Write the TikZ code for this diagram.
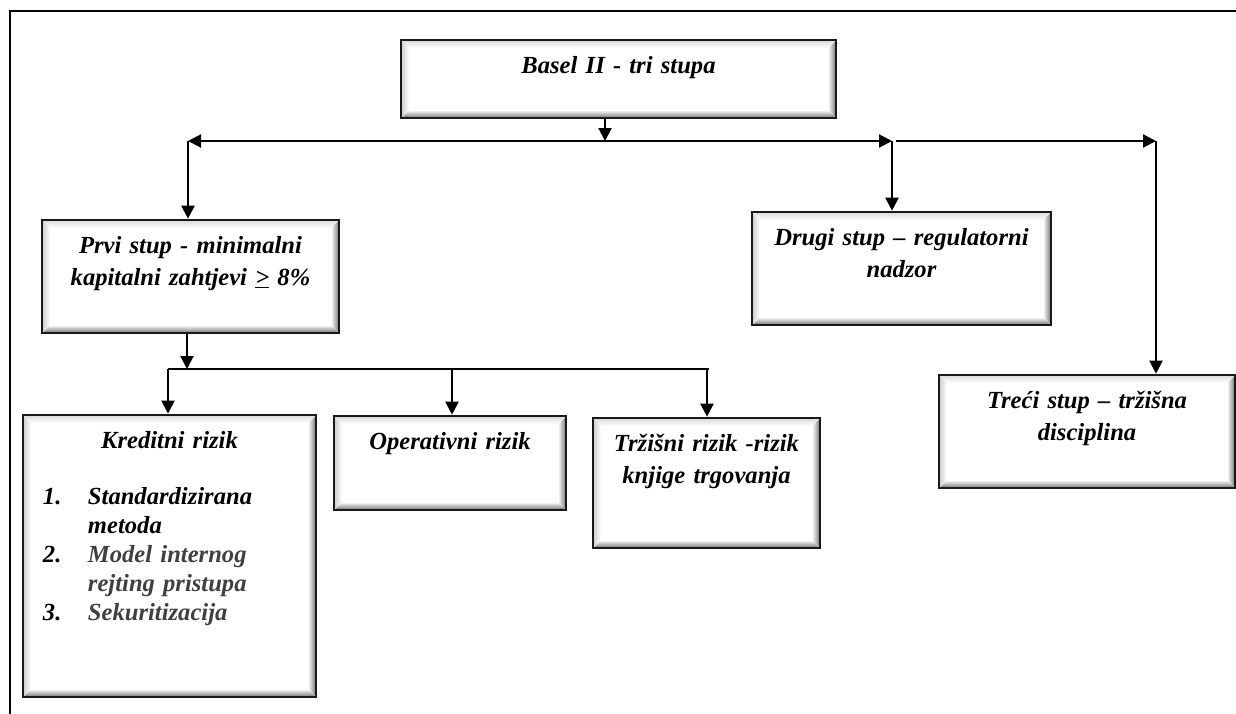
\documentclass[tikz,border=0pt]{standalone}
\usepackage{fontspec}
\setmainfont{Liberation Serif}
\usepackage{tikz}
\usetikzlibrary{arrows.meta, calc}
\tikzset{>={Triangle[length=0.26cm,width=0.26cm]}}
\tikzset{
  pillarBox/.style={shape=rectangle, draw=black!90, line width=1.5pt, fill=white, inner sep=0pt,
    align=center, text height=0.67cm, font=\fontsize{14}{18}\selectfont\bfseries\itshape,
    path picture={
      \coordinate (bsw) at (path picture bounding box.south west);
      \coordinate (bne) at (path picture bounding box.north east);
      \fill[left color=white, right color=black!55] ($(bne)+(-0.16,-0.16)$) -- (bne) -- (bne |- bsw) -- ($(bne |- bsw)+(-0.16,0.16)$) -- cycle;
      \fill[top color=white, bottom color=black!55] ($(bsw)+(0.16,0.16)$) -- (bsw) -- (bne |- bsw) -- ($(bne |- bsw)+(-0.16,0.16)$) -- cycle;
      \fill[left color=black!20, right color=white] (bsw) -- ($(bsw)+(0.16,0.16)$) -- ($(bsw |- bne)+(0.16,-0.16)$) -- (bsw |- bne) -- cycle;
      \fill[top color=black!15, bottom color=white] (bsw |- bne) -- (bne) -- ($(bne)+(-0.16,-0.16)$) -- ($(bsw |- bne)+(0.16,-0.16)$) -- cycle;
    }},
  pillarLink/.style={draw=black, ->, line width=1.2pt},
  busLine/.style={draw=black, line width=0.9pt},
  frameLine/.style={draw=black, line width=1.2pt}
}

\begin{document}
\begin{tikzpicture}
    \useasboundingbox (0,0) rectangle (24.72,-14.26);
    \draw[frameLine] (0.2,-14.4) -- (0.2,-0.22) -- (24.9,-0.22);

    % boxes
    \node[pillarBox, text width=8.7cm, text depth=0.89cm] (basel) at (12.37,-1.58) {Basel II - tri stupa};
    \node[pillarBox, text width=5.94cm, text depth=1.59cm] (prvi) at (3.81,-5.53) {Prvi stup - minimalni\\ kapitalni zahtjevi \underline{>} 8\%};
    \node[pillarBox, text width=5.98cm, text depth=1.59cm] (drugi) at (18.03,-5.37) {Drugi stup – regulatorni\\ nadzor};
    \node[pillarBox, text width=5.92cm, text depth=1.59cm] (treci) at (21.74,-8.63) {Treći stup – tržišna\\ disciplina};
    \node[pillarBox, text width=5.86cm, text depth=4.97cm] (kreditni) at (3.39,-11.12) {Kreditni rizik\\[0.48cm]
      \makebox[\linewidth][l]{\hspace{0.4cm}\fontsize{14}{16.6}\selectfont\begin{tabular}[t]{@{}p{0.9cm}@{}l@{}}
        1. & Standardizirana\\ & metoda\\
        2. & \color{black!75}Model internog\\ & \color{black!75}rejting pristupa\\
        3. & \color{black!75}Sekuritizacija
      \end{tabular}}};
    \node[pillarBox, text width=4.64cm, text depth=1.21cm] (operativni) at (9.0,-9.26) {Operativni rizik};
    \node[pillarBox, text width=4.54cm, text depth=1.93cm] (trzisni) at (14.13,-9.66) {Tržišni rizik -rizik\\ knjige trgovanja};

    % junctions
    \coordinate (topHub) at (12.1,-2.82);
    \coordinate (leftTurn) at (3.76,-2.82);
    \coordinate (midTurn) at (17.84,-2.82);
    \coordinate (rightStart) at (17.92,-2.82);
    \coordinate (rightTurn) at (23.12,-2.82);
    \coordinate (busTop) at (3.74,-7.38);
    \coordinate (busLeft) at (3.36,-7.38);
    \coordinate (busMid) at (9.04,-7.38);
    \coordinate (busRight) at (14.14,-7.38);
    \coordinate (busEnd) at (14.18,-7.38);

    \path
    (topHub |- basel.south) edge [pillarLink] (topHub)
    (topHub) edge [pillarLink] (leftTurn)
    (leftTurn) edge [pillarLink] (leftTurn |- prvi.north)
    (topHub) edge [pillarLink] (midTurn)
    (midTurn) edge [pillarLink] (midTurn |- drugi.north)
    (rightStart) edge [pillarLink] (rightTurn)
    (rightTurn) edge [pillarLink] (rightTurn |- treci.north)
    (busTop |- prvi.south) edge [pillarLink] (busTop)
    (busLeft) edge [busLine] (busEnd)
    (busLeft) edge [pillarLink] (busLeft |- kreditni.north)
    (busMid) edge [pillarLink] (busMid |- operativni.north)
    (busRight) edge [pillarLink] (busRight |- trzisni.north);
\end{tikzpicture}
\end{document}
